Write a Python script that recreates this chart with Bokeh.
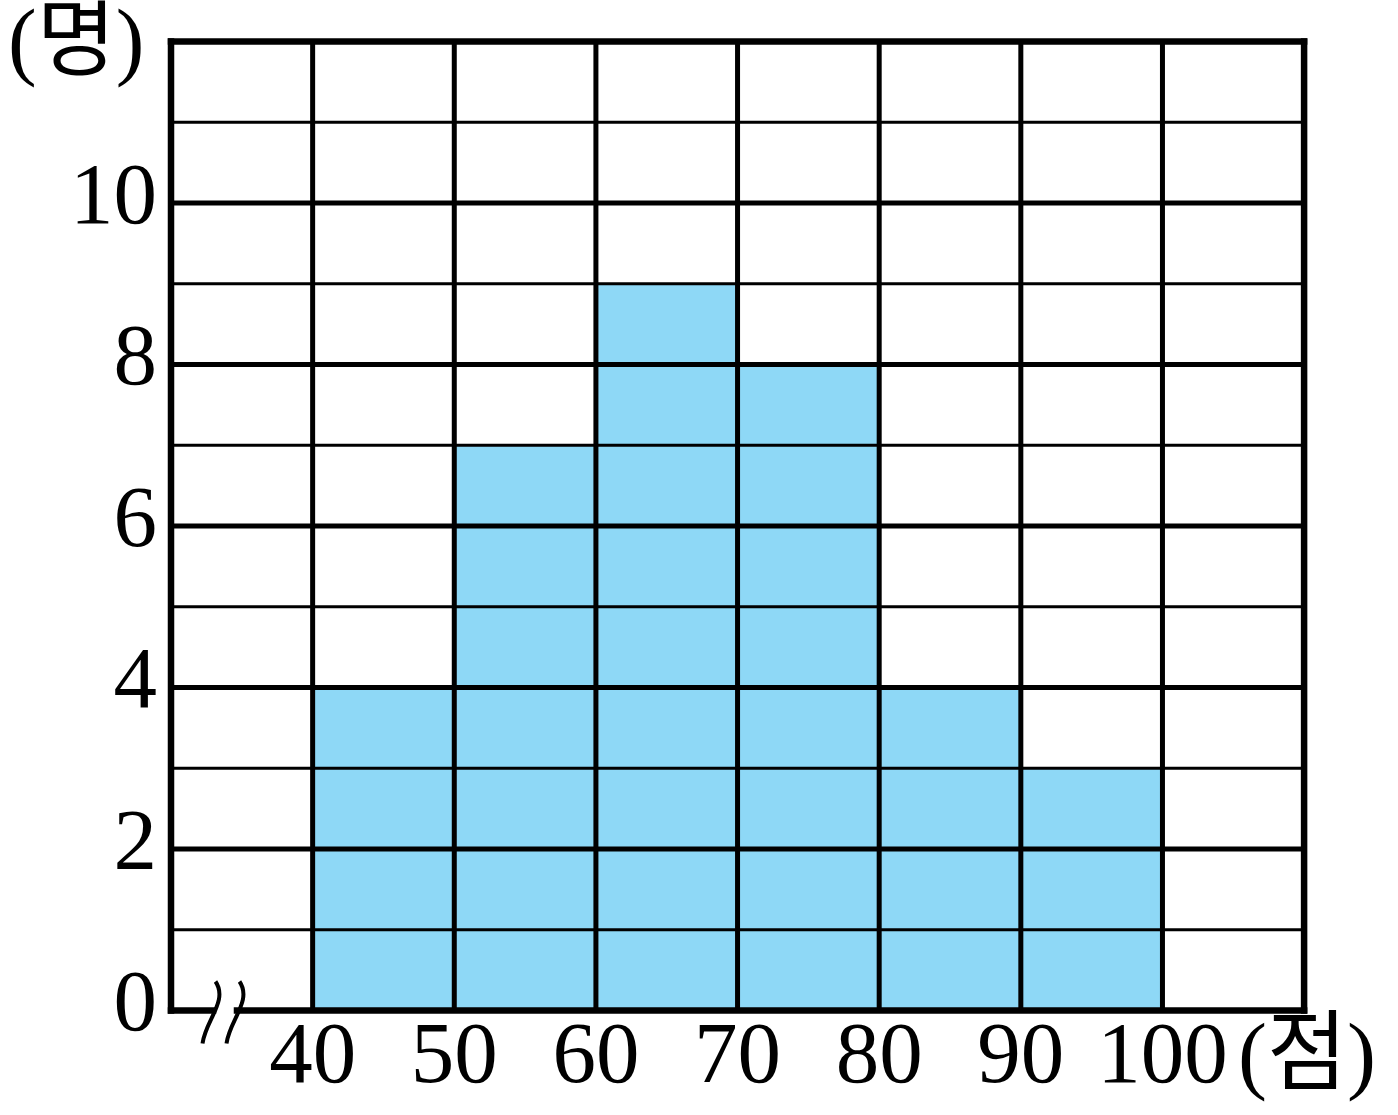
from bokeh.plotting import figure
from bokeh.embed import file_html
from bokeh.resources import INLINE
from bokeh.core.properties import value

# ---- data ----
bin_left = [40, 50, 60, 70, 80, 90]
bin_right = [50, 60, 70, 80, 90, 100]
counts = [4, 7, 9, 8, 4, 3]
x_ticks = [40, 50, 60, 70, 80, 90, 100]
x_tick_labels = ["40", "50", "60", "70", "80", "90", "100"]
y_ticks = [0, 2, 4, 6, 8, 10]
y_tick_labels = ["0", "2", "4", "6", "8", "10"]
y_unit = "(명)"
x_unit = "(점)"

X_MIN, X_MAX = 30, 110
Y_MIN, Y_MAX = 0, 12

W, H = 1398, 1115
# pixel placement of the chart box inside the canvas
PX_LEFT, PX_RIGHT = 170.5, 1303.6
PX_TOP, PX_BOTTOM = 41.0, 1010.0
sx = (PX_RIGHT - PX_LEFT) / (X_MAX - X_MIN)
sy = (PX_BOTTOM - PX_TOP) / (Y_MAX - Y_MIN)
x0 = X_MIN - PX_LEFT / sx
x1 = x0 + W / sx
y1 = Y_MAX + PX_TOP / sy
y0 = y1 - H / sy

p = figure(width=W, height=H, x_range=(x0, x1), y_range=(y0, y1),
           output_backend="svg", toolbar_location=None,
           x_axis_location=None, y_axis_location=None, min_border=0)
p.grid.visible = False
p.outline_line_color = None
p.background_fill_color = "white"
p.border_fill_color = "white"

BAR = "#8ED8F6"
INK = "#000000"
FONT = "Liberation Serif, Noto Sans CJK KR"

# bars
p.quad(left=bin_left, right=bin_right, bottom=[0] * len(counts), top=counts,
       fill_color=BAR, line_color=None)

# horizontal grid lines
for v in range(Y_MIN + 1, Y_MAX):
    w = 5 if v % 2 == 0 else 3
    p.segment(x0=[X_MIN], y0=[v], x1=[X_MAX], y1=[v], line_color=INK, line_width=w)
# vertical grid lines
for v in range(X_MIN + 10, X_MAX, 10):
    p.segment(x0=[v], y0=[Y_MIN], x1=[v], y1=[Y_MAX], line_color=INK, line_width=5)

# frame
FW = 6.5
gap_a = X_MIN + 42 / sx
gap_b = X_MIN + 66 / sx
p.segment(x0=[X_MIN, X_MIN, X_MAX, X_MIN, gap_b],
          y0=[Y_MAX, Y_MIN, Y_MIN, Y_MIN, Y_MIN],
          x1=[X_MAX, X_MIN, X_MAX, gap_a, X_MAX],
          y1=[Y_MAX, Y_MAX, Y_MAX, Y_MIN, Y_MIN],
          line_color=INK, line_width=FW, line_cap="square")

# axis break mark (two S strokes), pixel offsets from the axis origin
def dx(px):
    return X_MIN + px / sx

def dy(py):
    return Y_MIN - py / sy

offs = [0, 24]
p.bezier(x0=[dx(44.5 + o) for o in offs], y0=[dy(-29)] * 2,
         cx0=[dx(57.5 + o) for o in offs], cy0=[dy(-10)] * 2,
         cx1=[dx(34.5 + o) for o in offs], cy1=[dy(10)] * 2,
         x1=[dx(31.5 + o) for o in offs], y1=[dy(33)] * 2,
         line_color=INK, line_width=4)

# tick labels
p.text(x=[X_MIN] * len(y_ticks), y=y_ticks, text=y_tick_labels,
       x_offset=-14, y_offset=-9, text_align="right", text_baseline="middle",
       text_font=value(FONT), text_font_size="87px", text_color=INK)
p.text(x=x_ticks, y=[Y_MIN] * len(x_ticks), text=x_tick_labels,
       y_offset=43, text_align="center", text_baseline="middle",
       text_font=value(FONT), text_font_size="87px", text_color=INK)

# unit labels
p.text(x=[X_MIN], y=[Y_MAX], text=[y_unit], x_offset=-163, y_offset=-2,
       text_align="left", text_baseline="middle",
       text_font=value(FONT), text_font_size="86px", text_color=INK)
p.text(x=[X_MAX], y=[Y_MIN], text=[x_unit], x_offset=-66, y_offset=43,
       text_align="left", text_baseline="middle",
       text_font=value(FONT), text_font_size="87px", text_color=INK)

open("out.html", "w").write(file_html(p, INLINE))
